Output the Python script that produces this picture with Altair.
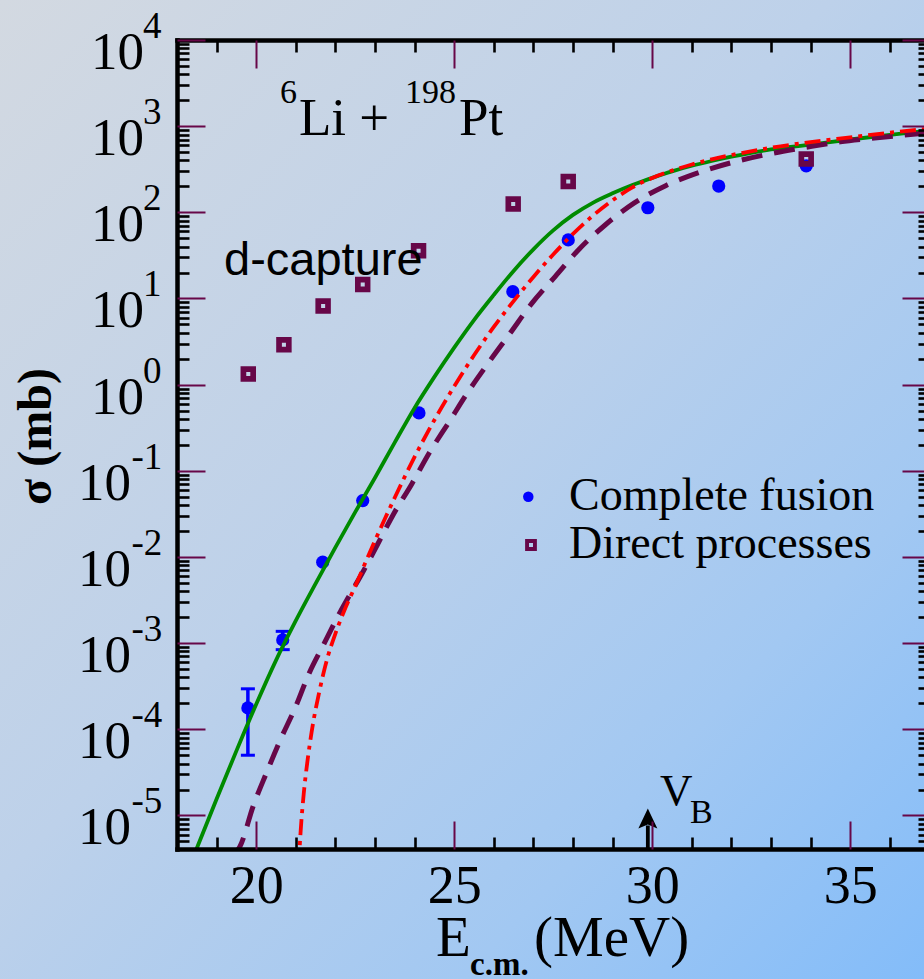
import altair as alt
import pandas as pd

# ---------------- data ----------------
# complete fusion (blue dots)
cf_x   = [19.79, 20.67, 21.68, 22.69, 24.11, 26.48, 27.88, 29.89, 31.68, 33.89]
cf_sig = [1.77e-4, 1.09e-3, 8.7e-3, 0.0451, 0.47, 12.0, 47.8, 113.0, 202.0, 347.0]
# visible error bars
err_x  = [19.79, 20.67]
err_lo = [5.0e-5, 8.4e-4]
err_hi = [2.95e-4, 1.37e-3]

# direct processes (hollow squares)
dp_x   = [19.80, 20.70, 21.69, 22.69, 24.10, 26.49, 27.88, 33.89]
dp_sig = [1.33, 2.91, 8.18, 14.5, 35.9, 125.0, 228.0, 415.0]

# green solid curve
green_x = [18.3, 18.5, 19.0, 19.5, 20.0, 20.5, 21.0, 21.5, 22.0, 22.5, 23.0, 23.5,
           24.0, 24.5, 25.0, 25.5, 26.0, 26.5, 27.0, 27.5, 28.0, 28.5, 29.0, 29.5,
           30.0, 30.5, 31.0, 31.5, 32.0, 32.5, 33.0, 34.0, 35.0, 36.0, 37.0]
green_sig = [2.45e-6, 4.17e-6, 1.55e-5, 5.62e-5, 1.95e-4, 6.31e-4, 1.82e-3, 4.90e-3,
             1.29e-2, 3.31e-2, 8.32e-2, 0.214, 0.537, 1.23, 2.69, 5.62, 11.0, 20.9,
             37.2, 61.7, 93.3, 129.0, 166.0, 207.0, 251.0, 299.0, 347.0, 394.0, 442.0,
             490.0, 537.0, 610.0, 700.0, 794.0, 891.0]

# red dash-dot curve
red_x = [21.07, 21.12, 21.2, 21.3, 21.4, 21.6, 21.8, 22.0, 22.2, 22.5, 23.0, 23.5,
         24.0, 24.5, 25.0, 25.5, 26.0, 26.5, 27.0, 27.5, 28.0, 28.5, 29.0, 29.5,
         30.0, 30.5, 31.0, 31.5, 32.0, 33.0, 34.0, 35.0, 36.0, 37.0]
red_sig = [2.51e-6, 6.31e-6, 1.78e-5, 4.47e-5, 9.33e-5, 2.82e-4, 6.76e-4, 1.29e-3,
           2.24e-3, 4.57e-3, 1.55e-2, 4.90e-2, 0.145, 0.389, 0.955, 2.19, 4.68, 9.33,
           17.8, 32.4, 56.2, 91.2, 138.0, 195.0, 251.0, 305.0, 359.0, 412.0, 462.0,
           562.0, 653.0, 741.0, 841.0, 933.0]

# purple dashed curve
purple_x = [19.40, 19.58, 19.93, 20.25, 20.61, 20.99, 21.33, 21.72, 22.13, 22.33, 22.69,
            23.05, 23.47, 23.93, 24.38, 24.88, 25.36, 25.89, 26.41, 26.96, 27.56, 28.16,
            28.82, 29.54, 30.34, 31.19, 32.06, 32.94, 33.87, 34.75, 35.68, 36.52, 37.0]
purple_sig = [3.47e-6, 4.27e-6, 1.31e-5, 3.05e-5, 7.55e-5, 1.80e-4, 4.40e-4, 9.98e-4,
              2.34e-3, 3.41e-3, 6.65e-3, 0.0136, 0.0316, 0.0705, 0.164, 0.375, 0.836,
              1.86, 3.94, 8.77, 18.2, 37.5, 71.8, 128.0, 204.0, 290.0, 383.0, 474.0,
              566.0, 659.0, 733.0, 802.0, 841.0]

# annotation data (barrier arrow)
vb_x = [29.89]
vb_bottom = [4.0e-6]
vb_top = [7.65e-6]
vb_head = [9.23e-6]

legend_names = ["Complete fusion", "Direct processes"]

# tick labels
x_major = [20, 25, 30, 35]
x_minor = [19, 21, 22, 23, 24, 26, 27, 28, 29, 31, 32, 33, 34, 36]
pos_exps = [0, 1, 2, 3, 4]
neg_exps = [-1, -2, -3, -4, -5]

# ---------------- layout ----------------
W, H = 747, 809
X_MIN, X_MAX = 18.0, 36.864
Y_MIN, Y_MAX = 4.08e-6, 1.0e4

MAROON = "#670748"
SERIF = "Liberation Serif"
SANS = "Liberation Sans"

y_major = [10.0 ** k for k in range(-5, 5)]
y_minor = [m * 10.0 ** k for k in range(-6, 4) for m in range(2, 10)
           if Y_MIN <= m * 10.0 ** k <= Y_MAX]

xs = alt.Scale(domain=[X_MIN, X_MAX], nice=False, zero=False)
ys = alt.Scale(type="log", domain=[Y_MIN, Y_MAX], nice=False)

one = pd.DataFrame({"x": [25.0], "y": [1.0]})

cf = pd.DataFrame({"x": cf_x, "y": cf_sig})
err = pd.DataFrame({"x": err_x, "lo": err_lo, "hi": err_hi})
dp = pd.DataFrame({"x": dp_x, "y": dp_sig})
green = pd.DataFrame({"x": green_x, "y": green_sig})
red = pd.DataFrame({"x": red_x, "y": red_sig})
purple = pd.DataFrame({"x": purple_x, "y": purple_sig})
vb = pd.DataFrame({"x": vb_x, "lo": vb_bottom, "hi": vb_top, "head": vb_head})


def X(field="x", axis=None):
    return alt.X(f"{field}:Q", scale=xs, axis=axis)


def Y(field="y", axis=None):
    return alt.Y(f"{field}:Q", scale=ys, axis=axis)


# background gradient
bg = alt.Chart(one).mark_rect(
    fill=alt.LinearGradient(
        gradient="linear", x1=0, y1=0, x2=1, y2=1,
        stops=[alt.GradientStop(color="#d3d9e1", offset=0),
               alt.GradientStop(color="#bdd1ea", offset=0.45),
               alt.GradientStop(color="#a2c8f2", offset=0.75),
               alt.GradientStop(color="#83bcf9", offset=1)])
).encode(x=alt.value(-177), x2=alt.value(W), y=alt.value(-40), y2=alt.value(H + 130))

# ---------------- axes (frame + inward ticks) ----------------
def x_axis_layer(axis):
    return alt.Chart(one).mark_point(opacity=0).encode(x=X(axis=axis), y=Y())


def y_axis_layer(axis):
    return alt.Chart(one).mark_point(opacity=0).encode(x=X(), y=Y(axis=axis))


common = dict(grid=False, title=None, zindex=2)
ax_bottom = alt.Axis(orient="bottom", values=x_major, ticks=False, tickSize=0,
                     domain=True, domainColor="black", domainWidth=4.5, domainCap="square",
                     labels=True, labelFont=SERIF, labelFontSize=54, labelColor="black",
                     labelPadding=10, labelFlush=False, labelOverlap=False, format="d", **common)
ax_bot_minor = alt.Axis(orient="top", offset=-H, values=x_minor, ticks=True, tickSize=12,
                        tickWidth=2.6, tickColor="black", domain=False, labels=False, **common)
ax_bot_major = alt.Axis(orient="top", offset=-H, values=x_major, ticks=True, tickSize=28,
                        tickWidth=2, tickColor=MAROON, domain=False, labels=False, **common)
ax_top_minor = alt.Axis(orient="bottom", offset=-H, values=x_minor, ticks=True, tickSize=12,
                        tickWidth=2.6, tickColor="black", domain=True, domainColor="black",
                        domainWidth=4.5, domainCap="square", labels=False, **common)
ax_top_major = alt.Axis(orient="bottom", offset=-H, values=x_major, ticks=True, tickSize=28,
                        tickWidth=2, tickColor=MAROON, domain=False, labels=False, **common)

ax_left = alt.Axis(orient="left", ticks=False, tickSize=0, domain=True, domainColor="black",
                   domainWidth=4.5, domainCap="square", labels=False, values=y_major, **common)
ax_left_minor = alt.Axis(orient="right", offset=-W, values=y_minor, ticks=True, tickSize=12,
                         tickWidth=2.6, tickColor="black", domain=False, labels=False, **common)
ax_left_major = alt.Axis(orient="right", offset=-W, values=y_major, ticks=True, tickSize=28,
                         tickWidth=2, tickColor=MAROON, domain=False, labels=False, **common)
ax_right_minor = alt.Axis(orient="left", offset=-(W + 6), values=y_minor, ticks=True, tickSize=12,
                          tickWidth=2.6, tickColor="black", domain=False, labels=False, **common)
ax_right_major = alt.Axis(orient="left", offset=-(W + 6), values=y_major, ticks=True, tickSize=28,
                          tickWidth=2, tickColor=MAROON, domain=False, labels=False, **common)

axis_layers = [x_axis_layer(a) for a in (ax_bottom, ax_bot_minor, ax_bot_major,
                                         ax_top_minor, ax_top_major)]
axis_layers += [y_axis_layer(a) for a in (ax_left, ax_left_minor, ax_left_major,
                                          ax_right_minor, ax_right_major)]

# y tick labels: 10 with superscript exponent
pos_df = pd.DataFrame({"v": [10.0 ** e for e in pos_exps], "e": [str(e) for e in pos_exps]})
neg_df = pd.DataFrame({"v": [10.0 ** e for e in neg_exps], "e": [str(e) for e in neg_exps]})


def ylabels(df, x_ten, x_exp):
    ten = alt.Chart(df).mark_text(text="10", align="right", baseline="alphabetic", dy=29,
                                  font=SERIF, fontSize=53, color="black").encode(
        x=alt.value(x_ten), y=Y("v"))
    ex = alt.Chart(df).mark_text(align="left", baseline="alphabetic", dy=-2,
                                 font=SERIF, fontSize=37, color="black").encode(
        x=alt.value(x_exp), y=Y("v"), text="e:N")
    return [ten, ex]


label_layers = ylabels(pos_df, -33, -34) + ylabels(neg_df, -46, -45.5)


def txt(s, x, y, size, font=SERIF, weight="normal", angle=0, align="left"):
    return alt.Chart(one).mark_text(text=s, align=align, baseline="alphabetic", font=font,
                                    fontSize=size, fontWeight=weight, angle=angle,
                                    color="black").encode(x=alt.value(x), y=alt.value(y))


texts = [
    txt("\u03c3 (mb)", -126, 396.5, 48, weight="bold", angle=270, align="center"),
    txt("E", 259, 916, 57),
    txt("c.m.", 293, 935, 33, weight="bold"),
    txt("(MeV)", 357, 916, 57),
    txt("6", 103, 63, 34),
    txt("Li +", 122, 95, 53),
    txt("198", 228, 63, 34),
    txt("Pt", 282, 95, 53),
    txt("d-capture", 47, 235, 47, font=SANS),
    txt("V", 483, 765, 45),
    txt("B", 513, 783, 34),
    txt(legend_names[0], 392, 470, 46),
    txt(legend_names[1], 392, 518, 46),
]

leg_dot = alt.Chart(one).mark_point(shape="circle", filled=True, color="#0000ff", size=110,
                                    opacity=1).encode(x=alt.value(351.3), y=alt.value(456.7))
leg_sq = alt.Chart(one).mark_point(shape="square", filled=False, color=MAROON, size=62,
                                   strokeWidth=3.9, opacity=1).encode(
    x=alt.value(354), y=alt.value(505))

# ---------------- data marks ----------------
cf_pts = alt.Chart(cf).mark_point(shape="circle", filled=True, color="#0000ff", size=175,
                                  opacity=1).encode(x=X(), y=Y())
err_bar = alt.Chart(err).mark_rule(color="#0000ff", strokeWidth=3.5).encode(
    x=X(), y=Y("lo"), y2="hi:Q")
err_cap_lo = alt.Chart(err).mark_tick(color="#0000ff", orient="horizontal", size=14,
                                      thickness=3, opacity=1).encode(x=X(), y=Y("lo"))
err_cap_hi = alt.Chart(err).mark_tick(color="#0000ff", orient="horizontal", size=14,
                                      thickness=3, opacity=1).encode(x=X(), y=Y("hi"))
dp_pts = alt.Chart(dp).mark_point(shape="square", filled=False, color=MAROON, size=95,
                                  strokeWidth=5.7, opacity=1).encode(x=X(), y=Y())

green_line = alt.Chart(green).mark_line(color="#008b00", strokeWidth=3.8, clip=True,
                                        interpolate="monotone").encode(x=X(), y=Y())
purple_line = alt.Chart(purple).mark_line(color=MAROON, strokeWidth=5, strokeDash=[21, 12],
                                          clip=True, interpolate="monotone").encode(x=X(), y=Y())
red_line = alt.Chart(red).mark_line(color="#ff0000", strokeWidth=3.8, strokeDash=[16, 6, 4, 6],
                                    clip=True, interpolate="monotone").encode(x=X(), y=Y())

vb_shaft = alt.Chart(vb).mark_rule(color="black", strokeWidth=3.8).encode(
    x=X(), y=Y("lo"), y2="hi:Q")
vb_head = alt.Chart(vb).mark_point(shape="M0,-1L0.95,1L0,0.6L-0.95,1Z", filled=True,
                                   color="black", size=400, opacity=1).encode(
    x=X(), y=Y("head"))

layers = [bg] + axis_layers + [cf_pts, err_bar, err_cap_lo, err_cap_hi, dp_pts,
                               green_line, purple_line, red_line, vb_shaft, vb_head,
                               leg_dot, leg_sq] + label_layers + texts

chart = alt.layer(*layers).resolve_axis(x="independent", y="independent").properties(
    width=W, height=H, autosize="none",
    padding={"left": 177, "top": 40, "right": 0, "bottom": 130},
    background="#c6d4e6",
).configure_view(stroke=None)

chart.save("out.html", embed_options={"renderer": "svg", "actions": False})
